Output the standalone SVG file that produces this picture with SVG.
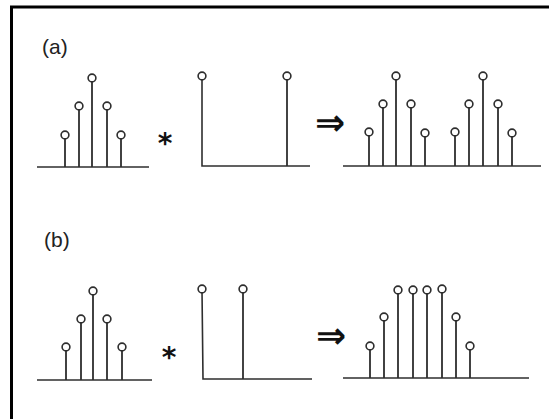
<svg xmlns="http://www.w3.org/2000/svg" width="549" height="419" viewBox="0 0 549 419">
<style>
.ax{stroke:#2e2e2e;stroke-width:1.6;fill:none}
.st{stroke:#2e2e2e;stroke-width:1.8;fill:none}
.dot{fill:#fff;stroke:#2e2e2e;stroke-width:1.6}
.lbl{font-family:"Liberation Sans",Arial,sans-serif;font-size:21px;fill:#222}
.op{font-family:"DejaVu Sans",sans-serif;font-weight:bold;font-size:28px;fill:#111}
.arr{font-family:"DejaVu Sans",sans-serif;font-weight:bold;font-size:36px;fill:#111}
</style>
<rect width="549" height="419" fill="#fff"/>
<g id="frame">
<line x1="10" y1="7" x2="549" y2="7" stroke="#000" stroke-width="3"/>
<line x1="11.5" y1="6" x2="11.5" y2="419" stroke="#000" stroke-width="3"/>
</g>
<g id="panel-a">
<text class="lbl" x="42" y="54">(a)</text>
<g id="a-signal">
<line class="ax" x1="37" y1="167" x2="149" y2="167"/>
<path class="st" d="M65 167V135M79 167V106M92 167V78M107 167V106M121 167V135"/>
<circle class="dot" cx="65" cy="135" r="3.9"/><circle class="dot" cx="79" cy="106" r="3.9"/><circle class="dot" cx="92" cy="78" r="3.9"/><circle class="dot" cx="107" cy="106" r="3.9"/><circle class="dot" cx="121" cy="135" r="3.9"/>
</g>
<text class="op" x="165" y="153" text-anchor="middle">*</text>
<g id="a-kernel">
<path class="ax" d="M202 77V166H310"/>
<path class="st" d="M287 166V77"/>
<circle class="dot" cx="202" cy="76" r="3.9"/><circle class="dot" cx="287" cy="76" r="3.9"/>
</g>
<text class="arr" x="330" y="135" text-anchor="middle">⇒</text>
<g id="a-result">
<line class="ax" x1="343" y1="166" x2="541" y2="166"/>
<path class="st" d="M369 166V132M383 166V104M396 166V76M411 166V104M425 166V133M455 166V132M469 166V104M483 166V76M498 166V104M512 166V133"/>
<circle class="dot" cx="369" cy="132" r="3.9"/><circle class="dot" cx="383" cy="104" r="3.9"/><circle class="dot" cx="396" cy="76" r="3.9"/><circle class="dot" cx="411" cy="104" r="3.9"/><circle class="dot" cx="425" cy="133" r="3.9"/>
<circle class="dot" cx="455" cy="132" r="3.9"/><circle class="dot" cx="469" cy="104" r="3.9"/><circle class="dot" cx="483" cy="76" r="3.9"/><circle class="dot" cx="498" cy="104" r="3.9"/><circle class="dot" cx="512" cy="133" r="3.9"/>
</g>
</g>
<g id="panel-b">
<text class="lbl" x="44" y="247">(b)</text>
<g id="b-signal">
<line class="ax" x1="37" y1="380" x2="152" y2="380"/>
<path class="st" d="M66 380V347M81 380V319M93 380V291M107 380V319M122 380V347"/>
<circle class="dot" cx="66" cy="347" r="3.9"/><circle class="dot" cx="81" cy="319" r="3.9"/><circle class="dot" cx="93" cy="291" r="3.9"/><circle class="dot" cx="107" cy="319" r="3.9"/><circle class="dot" cx="122" cy="347" r="3.9"/>
</g>
<text class="op" x="169" y="367" text-anchor="middle">*</text>
<g id="b-kernel">
<path class="ax" d="M202 290L203 379H312"/>
<path class="st" d="M243 379V290"/>
<circle class="dot" cx="202" cy="289" r="3.9"/><circle class="dot" cx="243" cy="289" r="3.9"/>
</g>
<text class="arr" x="331" y="348" text-anchor="middle">⇒</text>
<g id="b-result">
<line class="ax" x1="343" y1="378" x2="529" y2="378"/>
<path class="st" d="M370 378V346M384 378V317M398 378V290M413 378V290M427 378V290M442 378V289M456 378V317M470 378V346"/>
<circle class="dot" cx="370" cy="346" r="3.9"/><circle class="dot" cx="384" cy="317" r="3.9"/><circle class="dot" cx="398" cy="290" r="3.9"/><circle class="dot" cx="413" cy="290" r="3.9"/><circle class="dot" cx="427" cy="290" r="3.9"/><circle class="dot" cx="442" cy="289" r="3.9"/><circle class="dot" cx="456" cy="317" r="3.9"/><circle class="dot" cx="470" cy="346" r="3.9"/>
</g>
</g>
</svg>
